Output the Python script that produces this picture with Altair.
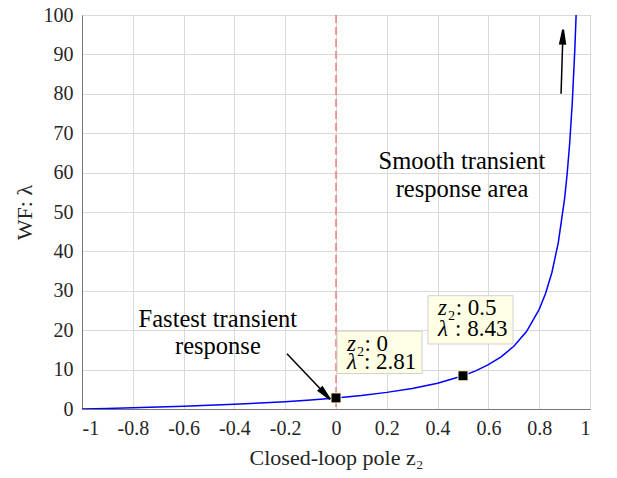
import altair as alt
import pandas as pd

# Curve
z_vals = [-1.0, -0.9, -0.8, -0.7, -0.6, -0.5, -0.4, -0.3, -0.2, -0.1, 0.0, 0.1, 0.2, 0.3, 0.4, 0.5,
          0.55, 0.6, 0.65, 0.7, 0.75, 0.8, 0.825, 0.85, 0.875, 0.9, 0.91, 0.92, 0.93, 0.94, 0.945, 0.9453]
lam_vals = [0.0, 0.15, 0.31, 0.50, 0.70, 0.94, 1.20, 1.51, 1.87, 2.30, 2.81, 3.43, 4.22, 5.22, 6.56, 8.43,
            9.68, 11.24, 13.25, 15.92, 19.67, 25.29, 29.3, 34.66, 42.15, 53.39, 59.64, 67.44, 77.5, 90.9, 99.4, 100.0]

# Data tips
tip_z = [0.0, 0.5]
tip_lam = [2.81, 8.43]
tip_rest1 = ["₂: 0", "₂: 0.5"]
tip_rest2 = [": 2.81", ": 8.43"]
box_x1 = [0.004, 0.362]
box_x2 = [0.339, 0.697]
box_y1 = [9.0, 16.5]
box_y2 = [19.75, 28.75]
line1_y = [16.5, 25.6]
line2_y = [11.9, 20.4]
text_x = [0.043, 0.402]

# Annotations
note_text = ["Fastest transient", "response", "Smooth transient", "response area"]
note_x = [-0.465, -0.465, 0.496, 0.496]
note_y = [22.5, 15.75, 62.75, 55.5]

arrow_x1 = [-0.193, 0.886]
arrow_y1 = [14.0, 80.0]
arrow_x2 = [-0.0425, 0.893]
arrow_y2 = [3.78, 94.5]
arrow_angle = [137, 2]

x_ticks = [-1, -0.8, -0.6, -0.4, -0.2, 0, 0.2, 0.4, 0.6, 0.8, 1]
y_ticks = [0, 10, 20, 30, 40, 50, 60, 70, 80, 90, 100]

FONT = "Liberation Serif"
TXT = "#000000"

curve = pd.DataFrame({"z": z_vals, "lam": lam_vals})
tips = pd.DataFrame({"z": tip_z, "lam": tip_lam, "r1": tip_rest1, "r2": tip_rest2,
                     "bx1": box_x1, "bx2": box_x2, "by1": box_y1, "by2": box_y2,
                     "l1": line1_y, "l2": line2_y, "tx": text_x})
notes = pd.DataFrame({"t": note_text, "x": note_x, "y": note_y})
arrows = pd.DataFrame({"x1": arrow_x1, "y1": arrow_y1, "x2": arrow_x2, "y2": arrow_y2, "a": arrow_angle})
vline = pd.DataFrame({"z": [0.0]})

xscale = alt.Scale(domain=[-1, 1], nice=False, zero=False)
yscale = alt.Scale(domain=[0, 100], nice=False, zero=False)

xaxis = alt.Axis(values=x_ticks, title="Closed-loop pole z₂", labelExpr="toString(datum.value)",
                 labelFontSize=20, titleFontSize=22, labelFont=FONT, titleFont=FONT, ticks=False,
                 labelPadding=9, titlePadding=9, labelOverlap=False, grid=True, gridColor="#d9d9d9",
                 domainColor="#777777", labelColor="#262626", titleColor="#262626",
                 titleFontWeight="normal")
yaxis = alt.Axis(values=y_ticks, title="WF: λ", labelExpr="toString(datum.value)",
                 labelFontSize=20, titleFontSize=22, labelFont=FONT, titleFont=FONT, ticks=False,
                 labelPadding=9, titlePadding=7, labelOverlap=False, grid=True, gridColor="#d9d9d9",
                 domainColor="#777777", labelColor="#262626", titleColor="#262626",
                 titleFontWeight="normal")


def X(f):
    return alt.X(f, type="quantitative", scale=xscale, axis=xaxis)


def Y(f):
    return alt.Y(f, type="quantitative", scale=yscale, axis=yaxis)


base_line = alt.Chart(curve).mark_line(color="#0000ff", strokeWidth=1.5, clip=True).encode(
    x=X("z"), y=Y("lam"))

red = alt.Chart(vline).mark_rule(color="#f26b6b", strokeDash=[8, 4], strokeWidth=1.3).encode(
    x=X("z"))

boxes = alt.Chart(tips).mark_rect(fill="#ffffe6", stroke="#d0d0d0", strokeWidth=1).encode(
    x=X("bx1"), x2="bx2:Q", y=Y("by1"), y2="by2:Q")

sym_z = alt.Chart(tips).mark_text(text="z", font=FONT, fontSize=23, fontStyle="italic",
                                  align="left", baseline="middle", color=TXT).encode(
    x=X("tx"), y=Y("l1"))
rest_z = alt.Chart(tips).mark_text(font=FONT, fontSize=23, align="left", baseline="middle",
                                   dx=9.5, color=TXT).encode(
    x=X("tx"), y=Y("l1"), text="r1:N")
sym_l = alt.Chart(tips).mark_text(text="λ", font=FONT, fontSize=23, fontStyle="italic",
                                  align="left", baseline="middle", color=TXT).encode(
    x=X("tx"), y=Y("l2"))
rest_l = alt.Chart(tips).mark_text(font=FONT, fontSize=23, align="left", baseline="middle",
                                   dx=17, color=TXT).encode(
    x=X("tx"), y=Y("l2"), text="r2:N")

markers = alt.Chart(tips).mark_point(shape="square", size=100, filled=True, fill="black",
                                     stroke="#ffffcc", strokeWidth=1, opacity=1).encode(
    x=X("z"), y=Y("lam"))

note_marks = alt.Chart(notes).mark_text(font=FONT, fontSize=24.5, color=TXT,
                                        align="center", baseline="middle").encode(
    x=X("x"), y=Y("y"), text="t:N")

shafts = alt.Chart(arrows).mark_rule(color="black", strokeWidth=1.5).encode(
    x=X("x1"), y=Y("y1"), x2="x2:Q", y2="y2:Q")
heads = alt.Chart(arrows).mark_point(shape="M0,-1L0.36,1L-0.36,1Z", size=196, filled=True,
                                     fill="black", stroke="black", opacity=1).encode(
    x=X("x2"), y=Y("y2"), angle=alt.Angle("a:Q", scale=None))

chart = alt.layer(red, base_line, boxes, sym_z, rest_z, sym_l, rest_l, markers, note_marks,
                  shafts, heads).properties(
    width=508, height=394,
    autosize=alt.AutoSizeParams(type="none"),
    padding={"left": 74, "top": 7, "right": 19, "bottom": 62},
    background="white",
).configure_view(stroke="#777777", strokeWidth=1)

chart.save("out.html", embed_options={"renderer": "svg", "actions": False})
